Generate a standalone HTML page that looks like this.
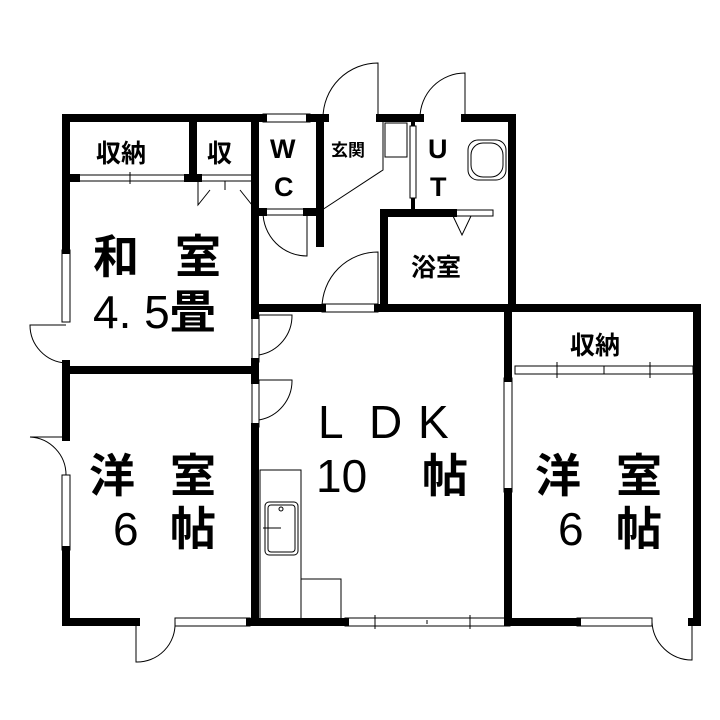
<!DOCTYPE html>
<html><head><meta charset="utf-8"><style>
html,body{margin:0;padding:0;background:#fff}
svg{display:block}
text{font-family:"Liberation Sans","Noto Sans CJK JP",sans-serif;fill:#000}
.b{font-weight:bold}
</style></head><body>
<svg width="720" height="720" viewBox="0 0 720 720" xmlns="http://www.w3.org/2000/svg">
<g stroke="#000" stroke-width="8" fill="none" stroke-linecap="square">
<line x1="66" y1="118" x2="263" y2="118"/>
<line x1="310" y1="118" x2="325" y2="118"/>
<line x1="380" y1="118" x2="420" y2="118"/>
<line x1="465" y1="118" x2="512" y2="118"/>
<line x1="66" y1="118" x2="66" y2="250"/>
<line x1="66" y1="364" x2="66" y2="437"/>
<line x1="66" y1="550" x2="66" y2="622"/>
<line x1="66" y1="622" x2="136" y2="622"/>
<line x1="250" y1="622" x2="345" y2="622"/>
<line x1="510" y1="622" x2="577" y2="622"/>
<line x1="692" y1="622" x2="697" y2="622"/>
<line x1="508" y1="308" x2="697" y2="308"/>
<line x1="697" y1="308" x2="697" y2="622"/>
<line x1="508" y1="308" x2="508" y2="378"/>
<line x1="508" y1="492" x2="508" y2="622"/>
<line x1="512" y1="118" x2="512" y2="308"/>
<line x1="255" y1="308" x2="322" y2="308"/>
<line x1="378" y1="308" x2="512" y2="308"/>
<line x1="384" y1="213" x2="384" y2="308"/>
<line x1="384" y1="213" x2="453" y2="213"/>
<line x1="255" y1="118" x2="255" y2="315"/>
<line x1="255" y1="362" x2="255" y2="380"/>
<line x1="255" y1="427" x2="255" y2="622"/>
<line x1="66" y1="370" x2="255" y2="370"/>
<line x1="66" y1="178" x2="76" y2="178"/>
<line x1="188" y1="178" x2="198" y2="178"/>
<line x1="193" y1="118" x2="193" y2="178"/>
<line x1="320" y1="118" x2="320" y2="243"/>
<line x1="255" y1="212" x2="263" y2="212"/>
<line x1="307" y1="212" x2="320" y2="212"/>
</g>
<g stroke="#000" stroke-width="4" fill="none">
<line x1="413" y1="118" x2="413" y2="126"/>
<line x1="413" y1="198" x2="413" y2="213"/>
</g>
<g stroke="#000" stroke-width="1" fill="none">
<rect x="263" y="114" width="47" height="8"/>
<rect x="76" y="175" width="112" height="6"/><line x1="130" y1="172" x2="130" y2="184"/>
<rect x="62" y="250" width="8" height="72"/>
<rect x="62" y="475" width="8" height="75"/>
<rect x="175" y="618" width="75" height="8"/>
<rect x="345" y="618" width="165" height="8"/><line x1="427" y1="620" x2="427" y2="624"/><line x1="375" y1="615" x2="375" y2="629"/><line x1="470" y1="615" x2="470" y2="629"/>
<rect x="577" y="618" width="75" height="8"/>
<rect x="504" y="378" width="8" height="114"/>
<rect x="515" y="366" width="178" height="8"/><line x1="604" y1="366" x2="604" y2="374"/><line x1="557" y1="362" x2="557" y2="378"/><line x1="650" y1="362" x2="650" y2="378"/>
<rect x="252" y="315" width="7" height="47"/>
<rect x="252" y="380" width="7" height="47"/>
<rect x="410" y="126" width="6" height="72"/>
<rect x="322" y="304" width="56" height="8"/>
<rect x="453" y="210" width="40" height="6"/>
<rect x="263" y="209" width="44" height="6"/>
<rect x="198" y="175" width="54" height="6"/>
<!-- doors -->
<path d="M378 118 V63 A55 55 0 0 0 323 118"/>
<path d="M465 118 V73 A45 45 0 0 0 420 118"/>
<path d="M263 212 A44 44 0 0 0 307 256 V212"/>
<path d="M322 308 A56 56 0 0 1 378 252 V308"/>
<path d="M259 315 H292 A40 40 0 0 1 259 355"/>
<path d="M259 380 H292 A40 40 0 0 1 259 420"/>
<path d="M66 325 H30 A38 38 0 0 0 66 363"/>
<path d="M66 437 H30 A38 38 0 0 1 66 475"/>
<path d="M136 622 V662 A38 38 0 0 0 175 622"/>
<path d="M692 622 V660 A40 40 0 0 1 652 622"/>
<path d="M198 181 V205 L210 190 M252 181 V205 L240 190 M225 181 V190"/>
<path d="M322 210 L383 170 V122"/>
<rect x="385" y="123" width="22" height="34"/>
<path d="M453 216 L462 235 L471 216"/>
<rect x="468" y="140" width="38" height="40" rx="10"/>
<rect x="471" y="143" width="32" height="34" rx="12"/>
<rect x="260" y="470" width="41" height="152"/>
<rect x="301" y="579" width="40" height="43"/>
<rect x="265" y="502" width="33" height="53" rx="4"/>
<rect x="268" y="505" width="27" height="47" rx="3"/>
<circle cx="281" cy="509" r="2"/>
<line x1="263" y1="528" x2="281" y2="528"/>
</g>
<text class="b" x="96" y="162" font-size="25">収納</text>
<text class="b" x="207" y="162" font-size="25">収</text>
<text class="b" x="270" y="158" font-size="27">W</text>
<text class="b" x="274" y="196" font-size="27">C</text>
<text class="b" x="331" y="156" font-size="17">玄関</text>
<text class="b" x="428" y="158" font-size="27">U</text>
<text class="b" x="430" y="196" font-size="27">T</text>
<text class="b" x="411" y="276" font-size="25">浴室</text>
<text class="b" x="93" y="273" font-size="46">和</text>
<text class="b" x="175" y="273" font-size="46">室</text>
<text x="93" y="328" font-size="46">4. 5<tspan class="b">畳</tspan></text>
<text x="318" y="438" font-size="46">L</text>
<text x="369" y="438" font-size="46">D</text>
<text x="418" y="438" font-size="46">K</text>
<text x="316" y="492" font-size="46">10</text>
<text class="b" x="422" y="492" font-size="46">帖</text>
<text class="b" x="89" y="492" font-size="46">洋</text>
<text class="b" x="170" y="492" font-size="46">室</text>
<text x="113" y="545" font-size="46">6</text>
<text class="b" x="170" y="545" font-size="46">帖</text>
<text class="b" x="570" y="354" font-size="25">収納</text>
<text class="b" x="535" y="492" font-size="46">洋</text>
<text class="b" x="616" y="492" font-size="46">室</text>
<text x="558" y="545" font-size="46">6</text>
<text class="b" x="616" y="545" font-size="46">帖</text>
</svg>
</body></html>
